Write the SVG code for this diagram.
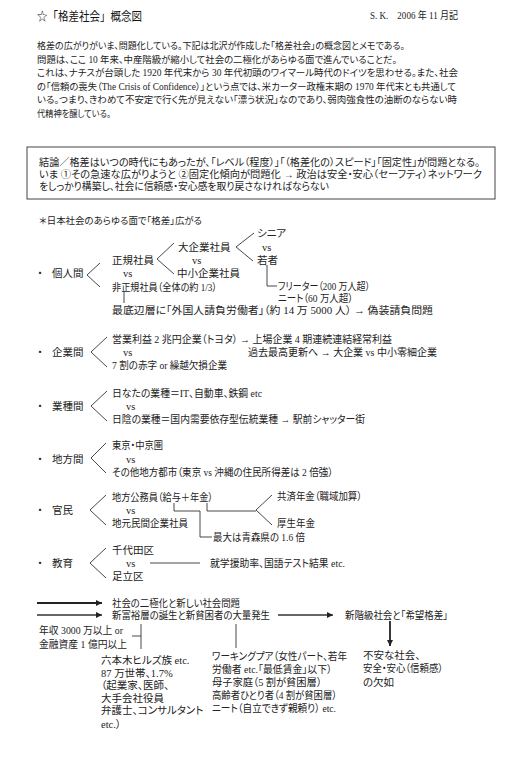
<svg xmlns="http://www.w3.org/2000/svg" width="509" height="758" viewBox="0 0 509 758">
<style>
.t{font-family:"Liberation Serif","Noto Sans CJK JP",serif;font-size:10.5px;fill:#222;dominant-baseline:central;font-feature-settings:"palt"}
.h{font-family:"Noto Sans CJK JP",sans-serif;font-size:12.5px;fill:#111;dominant-baseline:central}
.p{font-size:9.5px}
.b{font-size:10px}
.c{stroke:#333;stroke-width:0.9;fill:none}
.a{stroke:#222;stroke-width:1.8;fill:none}
.ag{stroke:#666;stroke-width:1.8;fill:none}
</style>
<defs>
<marker id="ah" viewBox="0 0 10 10" refX="10" refY="5" markerWidth="8" markerHeight="6" orient="auto" markerUnits="userSpaceOnUse"><path d="M0,0 L10,5 L0,10 z" fill="#222"/></marker>
</defs>
<rect width="509" height="758" fill="#fff"/>

<g id="header">
<text class="h" x="37" y="15" textLength="105" lengthAdjust="spacingAndGlyphs">☆「格差社会」概念図</text>
<text class="t" x="370" y="15" font-size="11" textLength="88" lengthAdjust="spacingAndGlyphs">S. K.　2006 年 11 月記</text>
</g>

<g id="intro">
<text class="t p" x="37" y="46" textLength="368" lengthAdjust="spacingAndGlyphs">格差の広がりがいま、問題化している。下記は北沢が作成した「格差社会」の概念図とメモである。</text>
<text class="t p" x="37" y="59.5" textLength="360" lengthAdjust="spacingAndGlyphs">問題は、ここ 10 年来、中産階級が縮小して社会の二極化があらゆる面で進んでいることだ。</text>
<text class="t p" x="37" y="73" textLength="421" lengthAdjust="spacingAndGlyphs">これは、ナチスが台頭した 1920 年代末から 30 年代初頭のワイマール時代のドイツを思わせる。また、社会</text>
<text class="t p" x="37" y="86.5" textLength="419" lengthAdjust="spacingAndGlyphs">の「信頼の喪失（The Crisis of Confidence）」という点では、米カーター政権末期の 1970 年代末とも共通して</text>
<text class="t p" x="37" y="100" textLength="420" lengthAdjust="spacingAndGlyphs">いる。つまり、きわめて不安定で行く先が見えない「漂う状況」なのであり、弱肉強食性の油断のならない時</text>
<text class="t p" x="37" y="113.5" textLength="74" lengthAdjust="spacingAndGlyphs">代精神を醸している。</text>
</g>

<g id="conclusion">
<rect x="27" y="147" width="468" height="52" fill="none" stroke="#444" stroke-width="1"/>
<text class="t b" x="39" y="162" textLength="441" lengthAdjust="spacingAndGlyphs">結論／格差はいつの時代にもあったが、「レベル（程度）」「（格差化の）スピード」「固定性」が問題となる。</text>
<text class="t b" x="39" y="174" textLength="443" lengthAdjust="spacingAndGlyphs">いま ①その急速な広がりようと ②固定化傾向が問題化 → 政治は安全・安心（セーフティ）ネットワーク</text>
<text class="t b" x="39" y="186" textLength="290" lengthAdjust="spacingAndGlyphs">をしっかり構築し、社会に信頼感・安心感を取り戻さなければならない</text>
</g>

<g id="subtitle">
<text class="t p" x="39" y="221" textLength="163" lengthAdjust="spacingAndGlyphs">＊日本社会のあらゆる面で「格差」広がる</text>
</g>

<g id="individual">
<text class="t" x="40" y="273" text-anchor="middle">・</text>
<text class="t" x="52" y="273">個人間</text>
<text class="t" x="112" y="260">正規社員</text>
<text class="t" x="123" y="273">vs</text>
<text class="t" x="112" y="287" textLength="105" lengthAdjust="spacingAndGlyphs">非正規社員（全体の約 1/3）</text>
<text class="t" x="178" y="247">大企業社員</text>
<text class="t" x="192" y="260">vs</text>
<text class="t" x="177" y="273">中小企業社員</text>
<text class="t" x="257" y="233">シニア</text>
<text class="t" x="262" y="247">vs</text>
<text class="t" x="257" y="260">若者</text>
<text class="t" x="278" y="286" textLength="92" lengthAdjust="spacingAndGlyphs">フリーター（200 万人超）</text>
<text class="t" x="278" y="298" textLength="75" lengthAdjust="spacingAndGlyphs">ニート（60 万人超）</text>
<text class="t" x="112" y="310" textLength="321" lengthAdjust="spacingAndGlyphs">最底辺層に「外国人請負労働者」（約 14 万 5000 人） → 偽装請負問題</text>
</g>

<g id="corporate">
<text class="t" x="40" y="352" text-anchor="middle">・</text>
<text class="t" x="52" y="352">企業間</text>
<text class="t" x="112" y="339" textLength="280" lengthAdjust="spacingAndGlyphs">営業利益 2 兆円企業（トヨタ） → 上場企業 4 期連続連結経常利益</text>
<text class="t" x="123" y="352">vs</text>
<text class="t" x="248" y="352" textLength="189" lengthAdjust="spacingAndGlyphs">過去最高更新へ → 大企業 vs 中小零細企業</text>
<text class="t" x="112" y="365" textLength="115" lengthAdjust="spacingAndGlyphs">7 割の赤字 or 繰越欠損企業</text>
</g>

<g id="industry">
<text class="t" x="40" y="406" text-anchor="middle">・</text>
<text class="t" x="52" y="406">業種間</text>
<text class="t" x="112" y="393" textLength="150" lengthAdjust="spacingAndGlyphs">日なたの業種＝IT、自動車、鉄鋼 etc</text>
<text class="t" x="126" y="406">vs</text>
<text class="t" x="112" y="419" textLength="253" lengthAdjust="spacingAndGlyphs">日陰の業種＝国内需要依存型伝統業種 → 駅前シャッター街</text>
</g>

<g id="regional">
<text class="t" x="40" y="459" text-anchor="middle">・</text>
<text class="t" x="52" y="459">地方間</text>
<text class="t" x="112" y="445" textLength="51" lengthAdjust="spacingAndGlyphs">東京・中京圏</text>
<text class="t" x="126" y="459">vs</text>
<text class="t" x="112" y="472" textLength="221" lengthAdjust="spacingAndGlyphs">その他地方都市（東京 vs 沖縄の住民所得差は 2 倍強）</text>
</g>

<g id="public-private">
<text class="t" x="40" y="510" text-anchor="middle">・</text>
<text class="t" x="52" y="510">官民</text>
<text class="t" x="112" y="497" textLength="101" lengthAdjust="spacingAndGlyphs">地方公務員（給与＋年金）</text>
<text class="t" x="126" y="510">vs</text>
<text class="t" x="112" y="523" textLength="76" lengthAdjust="spacingAndGlyphs">地元民間企業社員</text>
<text class="t" x="277" y="496" textLength="85" lengthAdjust="spacingAndGlyphs">共済年金（職域加算）</text>
<text class="t" x="277" y="523" textLength="38" lengthAdjust="spacingAndGlyphs">厚生年金</text>
<text class="t" x="213" y="537" textLength="92" lengthAdjust="spacingAndGlyphs">最大は青森県の 1.6 倍</text>
</g>

<g id="education">
<text class="t" x="40" y="563" text-anchor="middle">・</text>
<text class="t" x="52" y="563">教育</text>
<text class="t" x="112" y="550">千代田区</text>
<text class="t" x="126" y="563">vs</text>
<text class="t" x="112" y="576">足立区</text>
<text class="t" x="210" y="563" textLength="135" lengthAdjust="spacingAndGlyphs">就学援助率、国語テスト結果 etc.</text>
</g>

<g id="polarization">
<text class="t" x="112" y="603" textLength="128" lengthAdjust="spacingAndGlyphs">社会の二極化と新しい社会問題</text>
</g>
<g id="new-rich-poor">
<text class="t" x="112" y="615" textLength="158" lengthAdjust="spacingAndGlyphs">新富裕層の誕生と新貧困者の大量発生</text>
</g>
<g id="new-class">
<text class="t" x="345" y="615" textLength="103" lengthAdjust="spacingAndGlyphs">新階級社会と「希望格差」</text>
</g>
<g id="rich-criteria">
<text class="t" x="39" y="630" textLength="84" lengthAdjust="spacingAndGlyphs">年収 3000 万以上 or</text>
<text class="t" x="39" y="644" textLength="88" lengthAdjust="spacingAndGlyphs">金融資産 1 億円以上</text>
</g>
<g id="rich">
<text class="t" x="101" y="660">六本木ヒルズ族 etc.</text>
<text class="t" x="101" y="673">87 万世帯、1.7%</text>
<text class="t" x="101" y="685">（起業家、医師、</text>
<text class="t" x="101" y="698">大手会社役員</text>
<text class="t" x="101" y="710">弁護士、コンサルタント</text>
<text class="t" x="101" y="724">etc.）</text>
</g>
<g id="poor">
<text class="t" x="212" y="656" textLength="135" lengthAdjust="spacingAndGlyphs">ワーキングプア（女性パート、若年</text>
<text class="t" x="212" y="669" textLength="120" lengthAdjust="spacingAndGlyphs">労働者 etc.「最低賃金」以下）</text>
<text class="t" x="212" y="682" textLength="110" lengthAdjust="spacingAndGlyphs">母子家庭（5 割が貧困層）</text>
<text class="t" x="212" y="695" textLength="125" lengthAdjust="spacingAndGlyphs">高齢者ひとり者（4 割が貧困層）</text>
<text class="t" x="212" y="708" textLength="124" lengthAdjust="spacingAndGlyphs">ニート（自立できず親頼り） etc.</text>
</g>
<g id="anxiety">
<text class="t" x="363" y="655">不安な社会、</text>
<text class="t" x="363" y="668" textLength="80" lengthAdjust="spacingAndGlyphs">安全・安心（信頼感）</text>
<text class="t" x="363" y="682">の欠如</text>
</g>

<g id="connectors">
<polyline class="c" points="100,263 87,275 100,287"/>
<polyline class="c" points="174,243 157,259 174,274"/>
<polyline class="c" points="254,233 236,247 253,261"/>
<polyline class="c" points="267,265 267,286 277,286"/>
<line class="c" x1="124" y1="292" x2="124" y2="303"/>
<polyline class="c" points="107,337 91,352 107,367"/>
<polyline class="c" points="107,391 91,406 107,421"/>
<polyline class="c" points="106,443 91,458 106,473"/>
<polyline class="c" points="106,495 90,510 106,525"/>
<polyline class="c" points="272,495 256,510 272,525"/>
<polyline class="c" points="174,503 174,511 200,511 200,537 212,537"/>
<polyline class="c" points="207,503 207,511 256,511"/>
<polyline class="c" points="106,548 90,563 106,578"/>
<line class="c" x1="150" y1="563" x2="200" y2="563"/>
<line class="a" x1="37" y1="603" x2="102" y2="603" marker-end="url(#ah)"/>
<line class="ag" x1="37" y1="615" x2="102" y2="615" marker-end="url(#ah)"/>
<line class="ag" x1="278" y1="615" x2="333" y2="615" marker-end="url(#ah)"/>
<line class="c" x1="141" y1="624" x2="141" y2="649"/>
<line class="c" x1="132" y1="636" x2="141" y2="636"/>
<line class="c" x1="236" y1="624" x2="236" y2="648"/>
<line class="a" x1="390" y1="621" x2="390" y2="646" stroke-width="1.5" marker-end="url(#ah)"/>
</g>
</svg>
